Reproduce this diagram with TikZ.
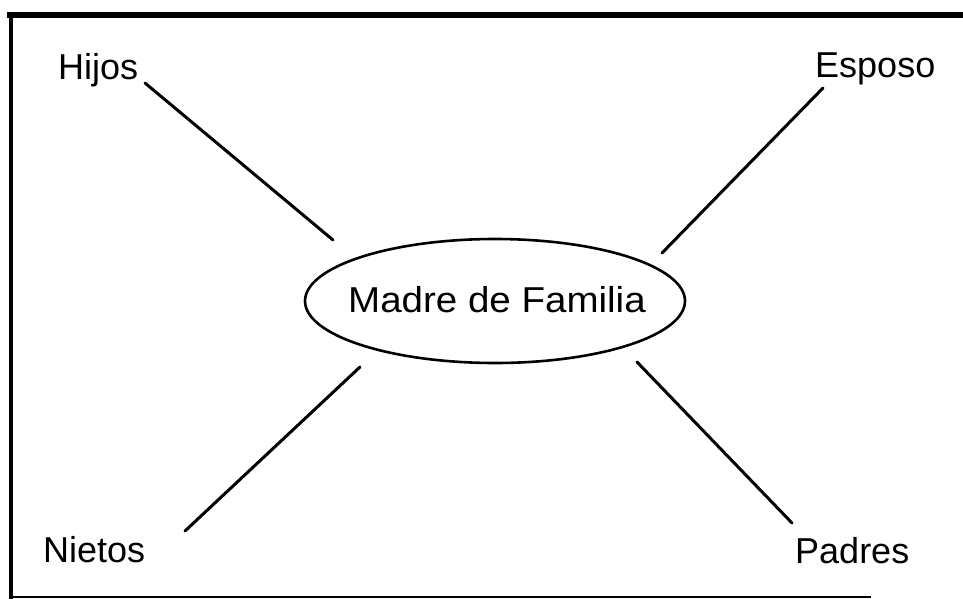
\documentclass[tikz,border=0pt]{standalone}
\usepackage{fontspec}
\setmainfont{Liberation Sans}
\begin{document}
\begin{tikzpicture}[x=1pt,y=-1pt,
  lbl/.style={inner sep=0pt,anchor=base west,font=\fontsize{36}{40}\selectfont},
  link/.style={line width=3pt,line cap=round},
  frame/.style={line cap=rect}]
\useasboundingbox (0,0) rectangle (963,599);
% frame
\draw[frame,line width=5.5pt] (10,15) -- (963,15);
\draw[frame,line width=4.5pt] (11,15) -- (11,597);
\draw[frame,line width=2.5pt] (11,597) -- (870,597);
% centre ellipse
\draw[line width=2.6pt] (495,301) ellipse [x radius=190,y radius=62];
\node[lbl,xscale=1.07] (madre) at (348,312) {Madre de Familia};
% labels
\node[lbl] (hijos) at (58,80) {Hijos};
\node[lbl] (esposo) at (815,78) {Esposo};
\node[lbl] (nietos) at (43,562) {Nietos};
\node[lbl] (padres) at (795,563) {Padres};
% connector ends
\coordinate (h1) at (145,83);  \coordinate (h2) at (333,240);
\coordinate (e1) at (823,88);  \coordinate (e2) at (662,253);
\coordinate (n1) at (185,531); \coordinate (n2) at (360,367);
\coordinate (p1) at (637,362); \coordinate (p2) at (792,523);
\draw[link] (h1) -- (h2);
\draw[link] (e1) -- (e2);
\draw[link] (n1) -- (n2);
\draw[link] (p1) -- (p2);
\end{tikzpicture}
\end{document}
